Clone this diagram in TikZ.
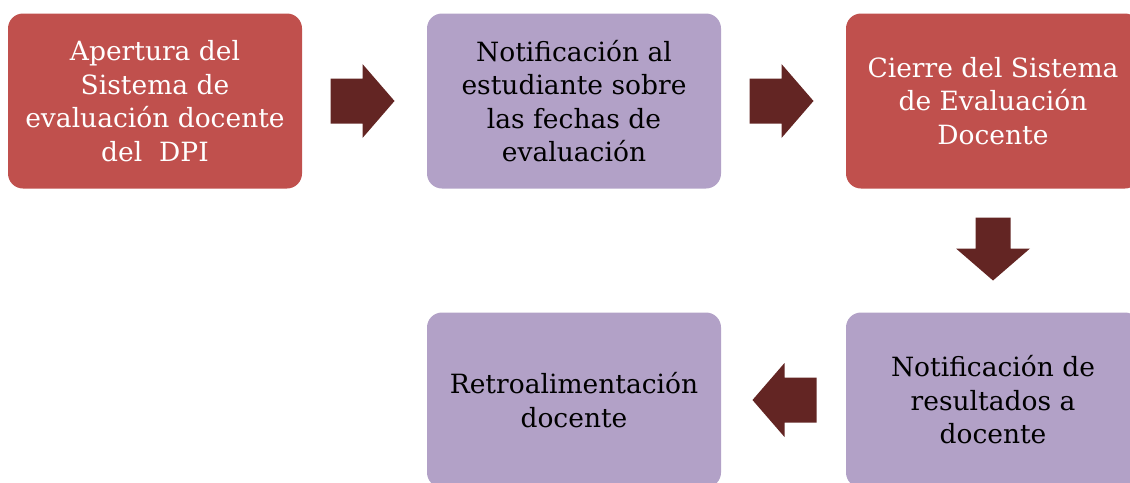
\documentclass[tikz,border=0pt]{standalone}
\usepackage{fontspec}
\setmainfont{DejaVu Serif}
\usetikzlibrary{calc}
\definecolor{redbox}{HTML}{C0504D}
\definecolor{purplebox}{HTML}{B2A1C7}
\definecolor{arrowc}{HTML}{632523}
\begin{document}
\begin{tikzpicture}[x=1pt,y=-1pt,
  box/.style={rounded corners=15pt, minimum width=294pt, minimum height=175pt, inner sep=0pt, align=center,
    font=\fontsize{26.5}{33.5}\selectfont},
  redb/.style={box, fill=redbox, text=white},
  purb/.style={box, fill=purplebox, text=black},
  arr/.style={fill=arrowc, draw=none}]
\useasboundingbox (0,0) rectangle (1130,482);
\clip (0,0) rectangle (1130,482);
\node[redb] (a) at (155,101) {Apertura del\\Sistema de\\evaluación docente\\del\ \ DPI};
\node[purb] (b) at (574,101) {Notificación al\\estudiante sobre\\las fechas de\\evaluación};
\node[redb] (c) at (993,101) {Cierre del Sistema\\de Evaluación\\Docente};
\node[purb] (d) at (993,400) {Notificación de\\resultados a\\docente};
\node[purb] (e) at (574,400) {Retroalimentación\\docente};
% right arrows
\path ($(a.east)!0.5!(b.west)$) coordinate (m1);
\fill[arr] ([shift={(-34,-22.5)}]m1) -- ([shift={(-2,-22.5)}]m1) -- ([shift={(-2,-37)}]m1) -- ([shift={(30,0)}]m1)
  -- ([shift={(-2,37)}]m1) -- ([shift={(-2,22.5)}]m1) -- ([shift={(-34,22.5)}]m1) -- cycle;
\path ($(b.east)!0.5!(c.west)$) coordinate (m2);
\fill[arr] ([shift={(-34,-22.5)}]m2) -- ([shift={(-2,-22.5)}]m2) -- ([shift={(-2,-37)}]m2) -- ([shift={(30,0)}]m2)
  -- ([shift={(-2,37)}]m2) -- ([shift={(-2,22.5)}]m2) -- ([shift={(-34,22.5)}]m2) -- cycle;
% down arrow
\path ($(c.south)!0.5!(d.north)$) coordinate (m3);
\fill[arr] ([shift={(-17.5,-33)}]m3) -- ([shift={(17.5,-33)}]m3) -- ([shift={(17.5,-2)}]m3) -- ([shift={(37,-2)}]m3)
  -- ([shift={(0,30)}]m3) -- ([shift={(-37,-2)}]m3) -- ([shift={(-17.5,-2)}]m3) -- cycle;
% left arrow
\path ($(d.west)!0.5!(e.east)$) coordinate (m4);
\fill[arr] ([shift={(33,-22.5)}]m4) -- ([shift={(1,-22.5)}]m4) -- ([shift={(1,-37)}]m4) -- ([shift={(-31,0)}]m4)
  -- ([shift={(1,37)}]m4) -- ([shift={(1,22.5)}]m4) -- ([shift={(33,22.5)}]m4) -- cycle;
\end{tikzpicture}
\end{document}
